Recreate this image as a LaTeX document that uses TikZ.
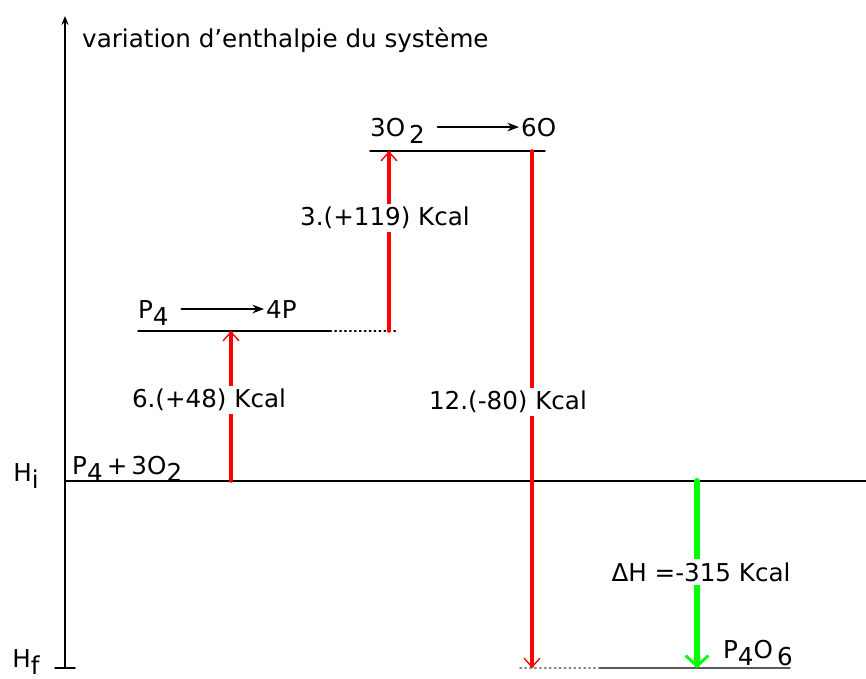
\documentclass[tikz,border=0pt]{standalone}
\usepackage{fontspec}
\setmainfont{DejaVu Sans}
\usetikzlibrary{arrows.meta}
\newcommand\bas[1]{\raisebox{-0.55ex}{#1}}
\begin{document}
\begin{tikzpicture}[x=0.02cm, y=-0.02cm, font=\fontsize{14}{16}\selectfont, line cap=round, >=Stealth,
  niveau/.style={line width=0.8pt},
  pointille/.style={dotted, line width=0.8pt},
  rouge/.style={red, line width=2pt, -{Straight Barb[length=5pt,width=9pt,line width=0.8pt]}},
  vert/.style={green, line width=3.4pt, -{Straight Barb[length=6pt,width=13pt,line width=1.6pt]}},
  etiq/.style={fill=white, inner sep=2pt}]
\useasboundingbox (0,0) rectangle (866,679);
% axe
\coordinate (hf) at (65,668);
\coordinate (haut) at (65,16);
\draw[niveau, -{Stealth[length=5pt,width=4pt]}] (hf) -- (haut);
\draw[niveau] (55,668) -- (75,668);
\node[anchor=west] (titre) at (76,40) {variation d'enthalpie du système};
\node (Hi) at (26,476) {H\bas{i}};
\node (Hf) at (26,662) {H\bas{f}};
% etat initial
\coordinate (hi1) at (65,481);
\coordinate (hi2) at (866,481);
\draw[niveau] (hi1) -- (hi2);
\node[anchor=base west] (reac) at (66,474) {P\bas{4}\,+\,3O\bas{2}};
% P4 --> 4P
\coordinate (n1a) at (138,331);
\coordinate (n1b) at (330,331);
\coordinate (n1c) at (398,331);
\draw[niveau] (n1a) -- (n1b);
\draw[pointille] (n1b) -- (n1c);
\node[anchor=base west, inner sep=1pt] (p4) at (136,318) {P\bas{4}};
\node[anchor=base west, inner sep=1pt] (4p) at (264,318) {4P};
\draw[niveau, ->] ([xshift=6pt]p4.east |- 4p.west) -- (4p.west);
% 3O2 --> 6O
\coordinate (n2a) at (370,151);
\coordinate (n2b) at (545,151);
\draw[niveau] (n2a) -- (n2b);
\node[anchor=base west, inner sep=1pt] (o2) at (368,136) {3O\,\bas{2}};
\node[anchor=base west, inner sep=1pt] (6o) at (519,136) {6O};
\draw[niveau, ->] ([xshift=6pt]o2.east |- 6o.west) -- (6o.west);
% fleches rouges
\coordinate (f1a) at (231,481);
\coordinate (f1b) at (231,331);
\draw[rouge] (f1a) -- (f1b);
\node[etiq] (e1) at (209,400) {6.(+48) Kcal};
\coordinate (f2a) at (389,331);
\coordinate (f2b) at (389,151);
\draw[rouge] (f2a) -- (f2b);
\node[etiq] (e2) at (385,218) {3.(+119) Kcal};
\coordinate (f3a) at (532,151);
\coordinate (f3b) at (532,668);
\draw[rouge] (f3a) -- (f3b);
\node[etiq] (e3) at (508,402) {12.(-80) Kcal};
% etat final
\coordinate (b1) at (520,668);
\coordinate (b2) at (600,668);
\coordinate (b3) at (790,668);
\draw[pointille, gray] (b1) -- (b2);
\draw[niveau, black!65] (b2) -- (b3);
\coordinate (g1) at (697,481);
\coordinate (g2) at (697,668);
\draw[vert] (g1) -- (g2);
\node[etiq] (dh) at (701,572) {ΔH =-315 Kcal};
\node[anchor=base west, inner sep=1pt] (prod) at (721,658) {P\bas{4}O\,\bas{6}};
\end{tikzpicture}
\end{document}
